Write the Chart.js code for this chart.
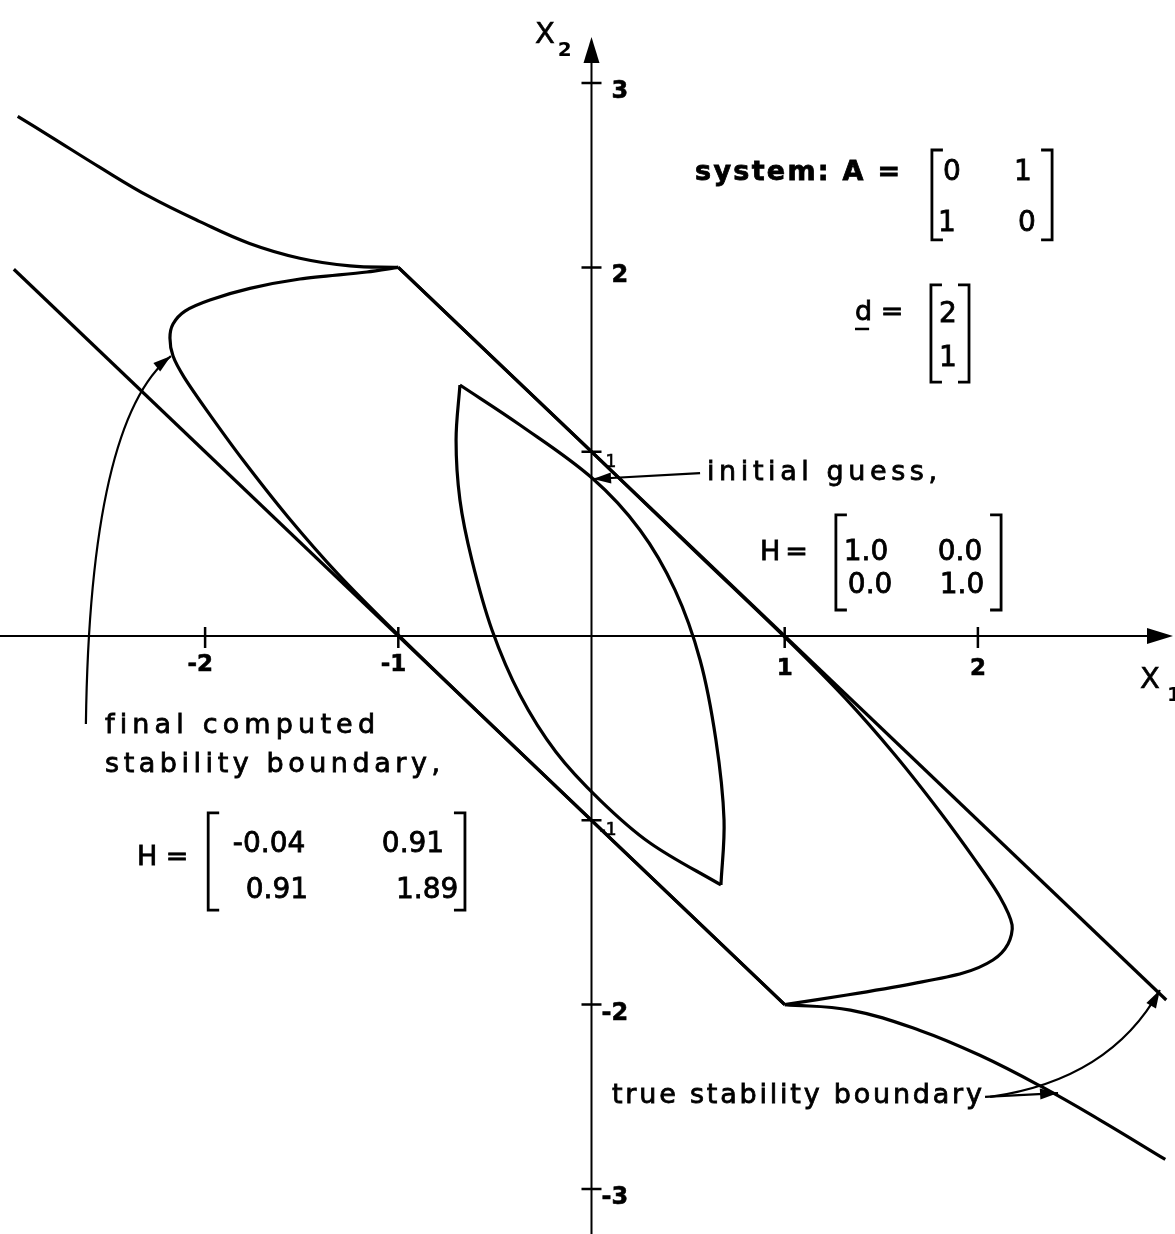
<!DOCTYPE html>
<html>
<head>
<meta charset="utf-8">
<script src="https://cdn.jsdelivr.net/npm/chart.js@4.4.1/dist/chart.umd.min.js"></script>
<style>
  html, body { margin: 0; padding: 0; background: #fff; }
  canvas { display: block; }
</style>
</head>
<body>
<canvas id="plane" width="1175" height="1234"></canvas>
<script>
// true stability boundary: two curved arcs joined by the lines x1 + x2 = +-1
const trueUpperCurve = [[-2.97, 2.82], [-2.80, 2.71], [-2.54, 2.54], [-2.29, 2.385], [-2.03, 2.25], [-1.77, 2.13], [-1.51, 2.05], [-1.25, 2.008], [-1, 2]];
const trueUpperLine = [[-1, 2], [2.975, -1.975]];
const trueLowerLine = [[-2.99, 1.99], [1, -2]];
const trueLowerCurve = [[1, -2], [1.34, -2.03], [1.70, -2.14], [2.01, -2.275], [2.32, -2.44], [2.63, -2.625], [2.97, -2.84]];

// final computed boundary, split at the two corners
const computedLeft = [[-1, 2], [-1.162, 1.975], [-1.509, 1.937], [-1.768, 1.886], [-1.975, 1.823], [-2.104, 1.763], [-2.166, 1.693], [-2.182, 1.617], [-2.166, 1.519], [-2.109, 1.405], [-1.985, 1.215], [-1.804, 0.955], [-1.571, 0.646], [-1.312, 0.336], [-1.027, 0.033], [-0.577, -0.423], [0, -1], [1, -2]];
const computedRight = [[1, -2], [1.322, -1.948], [1.664, -1.886], [1.923, -1.829], [2.078, -1.758], [2.156, -1.671], [2.177, -1.568], [2.114, -1.416], [1.985, -1.215], [1.804, -0.955], [1.571, -0.646], [1.312, -0.336], [1.027, -0.033], [0.562, 0.434], [0, 1], [-1, 2]];

// initial guess (H = I), a lens with two arcs
const guessLeft = [[-0.681, 1.362], [-0.701, 1.063], [-0.681, 0.738], [-0.619, 0.412], [-0.515, 0.033], [-0.370, -0.320], [-0.184, -0.629], [0.044, -0.890], [0.303, -1.123], [0.670, -1.351]];
const guessRight = [[-0.681, 1.362], [-0.370, 1.145], [0.003, 0.857], [0.251, 0.575], [0.432, 0.250], [0.562, -0.130], [0.644, -0.564], [0.686, -0.998], [0.670, -1.351]];

const xTicks = [-2, -1, 1, 2];
const yTicks = [-3, -2, -1, 1, 2, 3];
const xAxisEnd = 3.01;
const yAxisEnd = 3.25;

const FONT = '"DejaVu Sans", sans-serif';

// lettering, anchored in plot units
const notes = [
  { text: 'system: A =', x: 0.536, y: 2.474, size: 27, bold: true, width: 205 },
  { text: 'd =', x: 1.364, y: 1.715, size: 27 },
  { text: 'initial guess,', x: 0.598, y: 0.846, size: 27, width: 230 },
  { text: 'H =', x: 0.872, y: 0.412, size: 27, width: 48 },
  { text: 'final computed', x: -2.518, y: -0.526, size: 27, width: 270 },
  { text: 'stability boundary,', x: -2.518, y: -0.738, size: 27, width: 335 },
  { text: 'H =', x: -2.353, y: -1.243, size: 27 },
  { text: 'true stability boundary', x: 0.106, y: -2.534, size: 27, width: 370 }
];

const matrices = [
  { left: 1.762, right: 2.384, top: 2.637, bottom: 2.149, size: 28,
    cells: [['0', 1.866, 2.474], ['1', 2.233, 2.474], ['1', 1.840, 2.195], ['0', 2.254, 2.195]] },
  { left: 1.757, right: 1.954, top: 1.905, bottom: 1.378, size: 28,
    cells: [['2', 1.845, 1.704], ['1', 1.845, 1.465]] },
  { left: 1.265, right: 2.120, top: 0.657, bottom: 0.141, size: 28,
    cells: [['1.0', 1.421, 0.412], ['0.0', 1.907, 0.412], ['0.0', 1.442, 0.233], ['1.0', 1.918, 0.233]] },
  { left: -1.984, right: -0.655, top: -0.960, bottom: -1.487, size: 28,
    cells: [['-0.04', -1.669, -1.172], ['0.91', -0.924, -1.172], ['0.91', -1.628, -1.422], ['1.89', -0.851, -1.422]] }
];

const pointers = [
  { from: [0.562, 0.884], to: [0.008, 0.852] },
  { from: [-2.617, -0.477], via: [-2.596, 1.172], to: [-2.177, 1.519] },
  { from: [2.037, -2.501], to: [2.415, -2.480] },
  { from: [2.063, -2.501], via: [2.684, -2.409], to: [2.942, -1.921] }
];

function arrowHead(ctx, tx, ty, angle, len, half) {
  const c = Math.cos(angle), s = Math.sin(angle);
  ctx.beginPath();
  ctx.moveTo(tx, ty);
  ctx.lineTo(tx - len * c + half * s, ty - len * s - half * c);
  ctx.lineTo(tx - len * c - half * s, ty - len * s + half * c);
  ctx.closePath();
  ctx.fill();
}

// spread the letters out so a string covers the given width;
// a thin outline thickens the strokes like pen lettering
function spacedText(ctx, text, x, y, width) {
  const chars = [...text];
  const plain = chars.reduce((w, ch) => w + ctx.measureText(ch).width, 0);
  const gap = width && chars.length > 1 ? (width - plain) / (chars.length - 1) : 0;
  let cx = x;
  chars.forEach(ch => {
    ctx.fillText(ch, cx, y);
    ctx.strokeText(ch, cx, y);
    cx += ctx.measureText(ch).width + gap;
  });
}

function inkText(ctx, text, x, y) {
  ctx.fillText(text, x, y);
  ctx.strokeText(text, x, y);
}

const crossAxes = {
  id: 'crossAxes',
  beforeDatasetsDraw(chart) {
    const { ctx, chartArea, scales: { x, y } } = chart;
    const ox = x.getPixelForValue(0), oy = y.getPixelForValue(0);
    const xt = x.getPixelForValue(xAxisEnd), yt = y.getPixelForValue(yAxisEnd);
    ctx.save();
    ctx.strokeStyle = '#000';
    ctx.fillStyle = '#000';
    ctx.lineWidth = 2;
    ctx.beginPath();
    ctx.moveTo(chartArea.left, oy);
    ctx.lineTo(xt - 10, oy);
    ctx.moveTo(ox, chartArea.bottom);
    ctx.lineTo(ox, yt + 10);
    ctx.stroke();
    arrowHead(ctx, xt, oy, 0, 26, 8);
    arrowHead(ctx, ox, yt, -Math.PI / 2, 26, 8);

    ctx.lineWidth = 2.5;
    ctx.beginPath();
    xTicks.forEach(v => {
      const p = x.getPixelForValue(v);
      ctx.moveTo(p, oy - 9);
      ctx.lineTo(p, oy + 12);
    });
    yTicks.forEach(v => {
      const p = y.getPixelForValue(v);
      ctx.moveTo(ox - 10, p);
      ctx.lineTo(ox + 10, p);
    });
    ctx.stroke();

    ctx.textBaseline = 'alphabetic';
    ctx.lineWidth = 0.6;
    ctx.font = 'bold 23px ' + FONT;
    xTicks.forEach(v => {
      const p = x.getPixelForValue(v);
      const digit = String(Math.abs(v));
      const dw = ctx.measureText(digit).width;
      ctx.textAlign = 'right';
      inkText(ctx, v < 0 ? '-' + digit : digit, p + dw / 2, oy + (v < 0 ? 35 : 39));
    });
    ctx.textAlign = 'left';
    yTicks.forEach(v => {
      const p = y.getPixelForValue(v);
      if (Math.abs(v) === 1) {
        ctx.font = '17px ' + FONT;
        inkText(ctx, String(v), ox + (v < 0 ? 8 : 14), p + 15);
      } else {
        ctx.font = 'bold 24px ' + FONT;
        inkText(ctx, String(v), ox + (v < 0 ? 10 : 20), p + 15);
      }
    });

    // axis names with subscripts
    ctx.font = '29px ' + FONT;
    inkText(ctx, 'X', x.getPixelForValue(-0.292), y.getPixelForValue(3.218));
    inkText(ctx, 'X', x.getPixelForValue(2.839), y.getPixelForValue(-0.282));
    ctx.font = 'bold 20px ' + FONT;
    ctx.fillText('2', x.getPixelForValue(-0.175), y.getPixelForValue(3.147));
    ctx.fillText('1', x.getPixelForValue(2.979), y.getPixelForValue(-0.353));
    ctx.restore();
  }
};

const lettering = {
  id: 'lettering',
  afterDatasetsDraw(chart) {
    const { ctx, scales: { x, y } } = chart;
    ctx.save();
    ctx.fillStyle = '#000';
    ctx.strokeStyle = '#000';
    ctx.textBaseline = 'alphabetic';
    ctx.textAlign = 'left';

    ctx.lineWidth = 0.8;
    notes.forEach(n => {
      ctx.font = (n.bold ? 'bold ' : '') + n.size + 'px ' + FONT;
      spacedText(ctx, n.text, x.getPixelForValue(n.x), y.getPixelForValue(n.y), n.width);
    });

    // underline under the vector d
    ctx.lineWidth = 2.5;
    ctx.beginPath();
    ctx.moveTo(x.getPixelForValue(1.364), y.getPixelForValue(1.666));
    ctx.lineTo(x.getPixelForValue(1.437), y.getPixelForValue(1.666));
    ctx.stroke();

    matrices.forEach(m => {
      const l = x.getPixelForValue(m.left), r = x.getPixelForValue(m.right);
      const t = y.getPixelForValue(m.top), b = y.getPixelForValue(m.bottom);
      ctx.lineWidth = 2.8;
      ctx.beginPath();
      ctx.moveTo(l + 11, t); ctx.lineTo(l, t); ctx.lineTo(l, b); ctx.lineTo(l + 11, b);
      ctx.moveTo(r - 11, t); ctx.lineTo(r, t); ctx.lineTo(r, b); ctx.lineTo(r - 11, b);
      ctx.stroke();
      ctx.font = m.size + 'px ' + FONT;
      ctx.textAlign = 'center';
      ctx.lineWidth = 0.8;
      m.cells.forEach(([txt, cx, cy]) => inkText(ctx, txt, x.getPixelForValue(cx), y.getPixelForValue(cy)));
      ctx.textAlign = 'left';
    });

    ctx.lineWidth = 2.2;
    pointers.forEach(p => {
      const fx = x.getPixelForValue(p.from[0]), fy = y.getPixelForValue(p.from[1]);
      const tx = x.getPixelForValue(p.to[0]), ty = y.getPixelForValue(p.to[1]);
      let ax = fx, ay = fy;
      ctx.beginPath();
      ctx.moveTo(fx, fy);
      if (p.via) {
        ax = x.getPixelForValue(p.via[0]);
        ay = y.getPixelForValue(p.via[1]);
        ctx.quadraticCurveTo(ax, ay, tx, ty);
      } else {
        ctx.lineTo(tx, ty);
      }
      ctx.stroke();
      arrowHead(ctx, tx, ty, Math.atan2(ty - ay, tx - ax), 18, 5.5);
    });
    ctx.restore();
  }
};

function curve(points, tension) {
  return {
    data: points.map(([px, py]) => ({ x: px, y: py })),
    showLine: true,
    borderColor: '#000',
    borderWidth: 3.2,
    borderJoinStyle: 'round',
    pointRadius: 0,
    tension: tension,
    fill: false
  };
}

Chart.defaults.font.family = FONT;

new Chart(document.getElementById('plane'), {
  type: 'scatter',
  data: {
    datasets: [
      curve(trueUpperCurve, 0.4),
      curve(trueUpperLine, 0),
      curve(trueLowerLine, 0),
      curve(trueLowerCurve, 0.4),
      curve(computedLeft, 0.3),
      curve(computedRight, 0.3),
      curve(guessLeft, 0.35),
      curve(guessRight, 0.35)
    ]
  },
  options: {
    responsive: false,
    animation: false,
    layout: { padding: 0 },
    plugins: { legend: { display: false }, tooltip: { enabled: false } },
    scales: {
      x: { type: 'linear', min: -3.0616, max: 3.0202, display: false },
      y: { type: 'linear', min: -3.2447, max: 3.451, display: false }
    }
  },
  plugins: [crossAxes, lettering]
});
</script>
</body>
</html>
